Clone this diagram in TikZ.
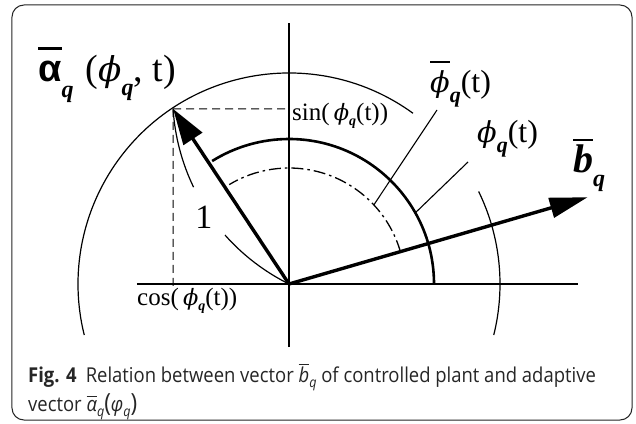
\documentclass[tikz,border=0pt]{standalone}
\usepackage{fontspec}
\setmainfont{Liberation Serif}
\newfontfamily\alphafont{Liberation Sans}
\newfontfamily\phifont[Scale=0.9]{DejaVu Serif}
\newfontfamily\capfont[FakeStretch=0.9]{Open Sans}
\usetikzlibrary{arrows.meta}
\newcommand\ovbar[3]{\leavevmode\vbox{\hrule height #1\kern #2\hbox{#3}}}
\newcommand\fs[1]{\fontsize{#1}{#1}\selectfont}
\newcommand\bq[1]{{\fs{#1}\bfseries\itshape q}}
\newcommand\myphi{{\phifont\itshape ϕ}}
\newcommand\capq{\raisebox{-5pt}{\fs{14}\textit{q}}}
\tikzset{
  axisline/.style={line width=1.3pt},
  thinline/.style={line width=1.2pt},
  leader/.style={line width=1.1pt},
  dashline/.style={line width=1pt, dash pattern=on 8pt off 5pt},
  vec/.style={line width=3.4pt},
  lbl/.style={anchor=base west, inner sep=0pt},
}
\begin{document}
\begin{tikzpicture}[x=1pt,y=1pt]
\useasboundingbox (-289,-139) rectangle (347,284);
\fill[white] (-289,-139) rectangle (347,284);
\draw[rounded corners=12pt, line width=1pt, black!85] (-277,-136) rectangle (343,279);

% axes
\coordinate (O) at (0,0);
\coordinate (ytop) at (0,261);
\coordinate (ybot) at (0,-63);
\coordinate (xl) at (-152,0);
\coordinate (xr) at (289,0);
\draw[axisline] (ybot) -- (ytop);
\draw[axisline] (xl) -- (xr);

% outer circle pieces
\draw[thinline] (54:211) arc[start angle=54, end angle=194, radius=211];
\draw[thinline] (-14:211) arc[start angle=-14, end angle=26, radius=211];

% phi arc (thick) and phi-bar arc (dash-dot)
\draw[line width=2.6pt] (0:145) arc[start angle=0, end angle=122, radius=145];
\draw[line width=1.3pt, dash pattern=on 12pt off 4pt on 2.5pt off 4pt] (16.2:116) arc[start angle=16.2, end angle=121, radius=116];

% vectors
\coordinate (T) at (123.5:210);
\coordinate (B) at (16.2:311);
\draw[vec, -{Triangle[length=36pt,width=22pt]}] (O) -- (T);
\draw[vec, -{Triangle[length=38pt,width=20pt]}] (O) -- (B);

% projections
\coordinate (Ty) at (0,175.1);
\coordinate (Tx) at (-115.9,-4);
\draw[dashline] (T) -- (Ty);
\draw[dashline] (T) -- (Tx);

% unit arc with gap for the label 1
\draw[thinline] (O) arc[start angle=243.6, end angle=221.6, radius=211];
\draw[thinline] (T) arc[start angle=183.6, end angle=205.7, radius=211];
\node[anchor=base, inner sep=0pt, font=\fs{34}] (one) at (-85,56) {1};

% leaders
\coordinate (l1a) at (148,174);
\coordinate (l1b) at (43:116);
\coordinate (l2a) at (179,122);
\coordinate (l2b) at (29.4:145);
\draw[leader] (l1a) -- (l1b);
\draw[leader] (l2a) -- (l2b);

% labels
\node[lbl] (alab) at (-251,202) {\fs{38}\ovbar{2.4pt}{12pt}{\alphafont\bfseries α}\raisebox{-16pt}{\bq{24}}\hspace{12pt}(\myphi\raisebox{-14pt}{\bq{24}}, t)};
\node[lbl] (slab) at (3,163) {\fs{25}sin(\,\myphi\raisebox{-5pt}{\bq{14}}(t))};
\node[lbl] (clab) at (-152,-21) {\fs{25}cos(\,\myphi\raisebox{-5pt}{\bq{14}}(t))};
\node[lbl] (pblab) at (141,191) {\fs{32}\ovbar{1.8pt}{8pt}{\myphi}\raisebox{-10pt}{\bq{22}}(t)};
\node[lbl] (plab) at (188,141) {\fs{32}\myphi\raisebox{-10pt}{\bq{22}}(t)};
\node[lbl] (blab) at (284,111) {\fs{40}\ovbar{2.6pt}{4pt}{\bfseries\itshape b}\raisebox{-14pt}{\bq{24}}};

% caption
\node[lbl, font=\capfont\fs{20.5}, text=black!85] (cap1) at (-261,-98) {\textbf{Fig. 4}\hspace{0.45em}Relation between vector \ovbar{0.9pt}{1.5pt}{\textit{b}}\capq{} of controlled plant and adaptive};
\node[lbl, font=\capfont\fs{20.5}, text=black!85] (cap2) at (-261,-127) {vector \ovbar{0.9pt}{2.5pt}{\textit{α}}\capq{\fs{25}(}\textit{φ}\capq{\fs{25})}};
\end{tikzpicture}
\end{document}
